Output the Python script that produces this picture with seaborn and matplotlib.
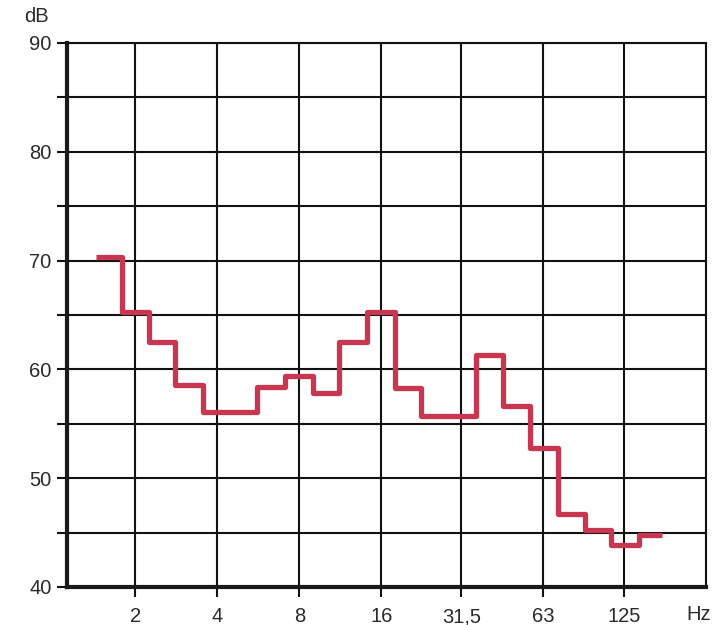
import numpy as np
import pandas as pd
import matplotlib
matplotlib.use("Agg")
import matplotlib.pyplot as plt
import seaborn as sns
from matplotlib.ticker import FixedLocator, NullFormatter

# third-octave band centre frequencies (Hz) and levels (dB)
freqs = [1.6, 2, 2.5, 3.15, 4, 5, 6.3, 8, 10, 12.5, 16, 20, 25, 31.5,
         40, 50, 63, 80, 100, 125, 160]
levels = [70.3, 65.3, 62.5, 58.6, 56.1, 56.1, 58.4, 59.4, 57.8, 62.5, 65.3,
          58.3, 55.7, 55.7, 61.3, 56.6, 52.8, 46.7, 45.2, 43.9, 44.8]
xtick_vals = [2, 4, 8, 16, 31.5, 63, 125]
xtick_labels = ["2", "4", "8", "16", "31,5", "63", "125"]
ytick_vals = [40, 50, 60, 70, 80, 90]

sns.set_theme(style="white")
plt.rcParams['font.family'] = ['Liberation Sans', 'DejaVu Sans']

# band edges: geometric means between neighbouring centres
c = np.array(freqs, dtype=float)
mids = np.sqrt(c[:-1] * c[1:])
edges = np.concatenate([[c[0] / np.sqrt(c[1] / c[0])], mids,
                        [c[-1] * np.sqrt(c[-1] / c[-2]) ** 0.6]])
xs, ys = [], []
for i, v in enumerate(levels):
    xs += [edges[i], edges[i + 1]]
    ys += [v, v]
df = pd.DataFrame({"f": xs, "dB": ys})

fig = plt.figure(figsize=(7.16, 6.25), dpi=100)
ax = fig.add_axes([67 / 716, 1 - 587 / 625, (706 - 67) / 716, (587 - 43) / 625])

sns.lineplot(data=df, x="f", y="dB", sort=False, estimator=None,
             color="#c8374f", linewidth=3.8, ax=ax, legend=False,
             solid_joinstyle="round", solid_capstyle="butt")

ax.set_xscale("log", base=2)
ax.set_xlim(1.122, 249)
ax.set_ylim(40, 90)
ax.xaxis.set_major_locator(FixedLocator(xtick_vals))
ax.set_xticklabels(xtick_labels)
ax.xaxis.set_minor_locator(FixedLocator([]))
ax.xaxis.set_minor_formatter(NullFormatter())
ax.yaxis.set_major_locator(FixedLocator(ytick_vals))
ax.yaxis.set_minor_locator(FixedLocator(np.arange(45, 90, 10)))
ax.grid(True, which="both", axis="y", color="#111111", linewidth=1.5)
ax.grid(True, which="major", axis="x", color="#111111", linewidth=1.5)
ax.set_axisbelow(True)

for side in ["left", "bottom"]:
    ax.spines[side].set_linewidth(3)
    ax.spines[side].set_color("#1a1a1a")
for side in ["right", "top"]:
    ax.spines[side].set_linewidth(1.5)
    ax.spines[side].set_color("#111111")

ax.tick_params(axis="both", which="both", length=7, width=1.5, color="#111111",
               labelsize=14.5, labelcolor="#2a2a2a", direction="out",
               left=True, bottom=True)
ax.tick_params(axis="x", pad=18.5)
ax.tick_params(axis="y", pad=4)
for lbl in ax.get_xticklabels():
    lbl.set_verticalalignment("baseline")
ax.set_xlabel("")
ax.set_ylabel("")

fig.text(36 / 716, 1 - 17 / 625, "dB", fontsize=14.5, color="#2a2a2a",
         ha="center", va="center")
fig.text(699 / 716, 1 - 620 / 625, "Hz", fontsize=14.5, color="#2a2a2a",
         ha="center", va="baseline")

fig.savefig("out.png", dpi=100, facecolor="white")
